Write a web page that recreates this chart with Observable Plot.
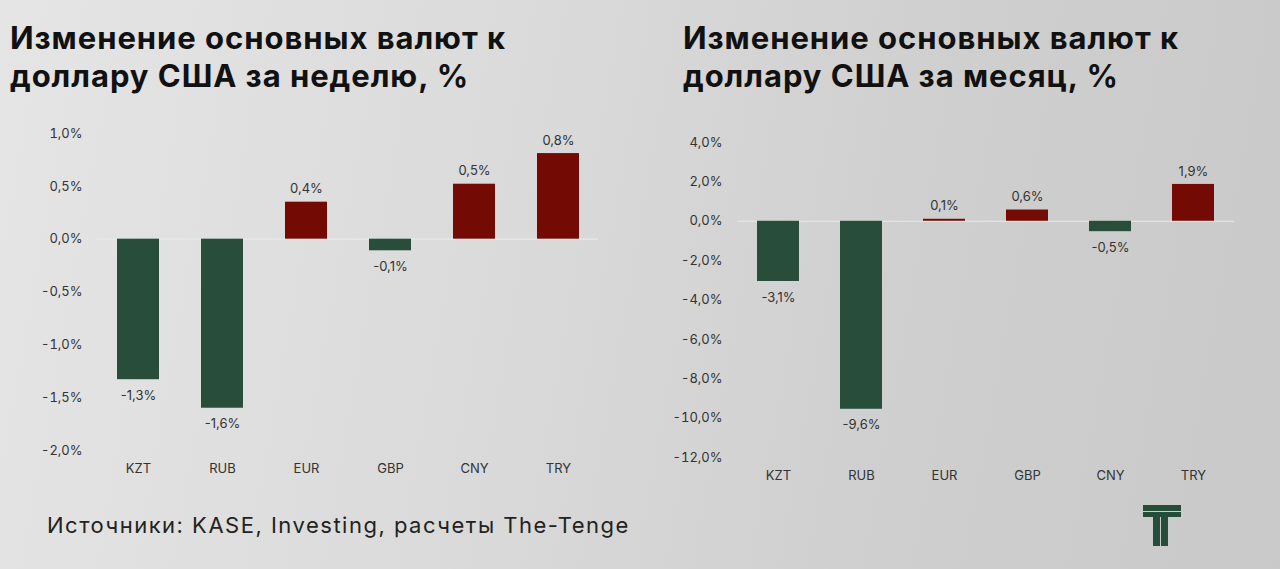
<!DOCTYPE html>
<html>
<head>
<meta charset="utf-8">
<script src="https://cdn.jsdelivr.net/npm/d3@7"></script>
<script src="https://cdn.jsdelivr.net/npm/@observablehq/plot@0.6"></script>
<style>
  html, body { margin: 0; padding: 0; }
  body {
    width: 1280px; height: 569px; overflow: hidden; position: relative;
    background: linear-gradient(100deg, #e5e5e5 0%, #dadada 40%, #cfcfcf 70%, #c9c9c9 100%);
    font-family: Inter, "Noto Sans", sans-serif;
  }
  .title {
    position: absolute; top: 19px; font-weight: 700; font-size: 31px; line-height: 38px;
    color: #111; letter-spacing: 0.95px;
  }
  .chart { position: absolute; }
  .caption { position: absolute; left: 47px; top: 512px; font-size: 22px; color: #222; letter-spacing: 1.5px; }
  .logo { position: absolute; left: 1143px; top: 505px; }
</style>
</head>
<body>
<div class="title" style="left:10px">Изменение основных валют к<br>доллару США за неделю, %</div>
<div class="title" style="left:683px">Изменение основных валют к<br>доллару США за месяц, %</div>
<div id="weekChart" class="chart" style="left:0px; top:110px"></div>
<div id="monthChart" class="chart" style="left:640px; top:120px"></div>
<div class="caption">Источники: KASE, Investing, расчеты The-Tenge</div>
<svg class="logo" width="40" height="44" viewBox="0 0 40 44">
  <rect x="0" y="0" width="38" height="6" fill="#264d3a"/>
  <rect x="0" y="7" width="38" height="5" fill="#264d3a"/>
  <rect x="10" y="12" width="7" height="29" fill="#264d3a"/>
  <rect x="18" y="12" width="7" height="29" fill="#264d3a"/>
</svg>
<script>
const currencies = ["KZT", "RUB", "EUR", "GBP", "CNY", "TRY"];
const weekValues = [-1.33, -1.60, 0.35, -0.11, 0.52, 0.81];
const weekLabels = ["-1,3%", "-1,6%", "0,4%", "-0,1%", "0,5%", "0,8%"];
const monthValues = [-3.06, -9.55, 0.10, 0.57, -0.53, 1.87];
const monthLabels = ["-3,1%", "-9,6%", "0,1%", "0,6%", "-0,5%", "1,9%"];
const weekTicks = [-2, -1.5, -1, -0.5, 0, 0.5, 1];
const monthTicks = [-12, -10, -8, -6, -4, -2, 0, 2, 4];

const GREEN = "#294d3b";
const RED = "#730b04";
const fmt = d => d.toFixed(1).replace(".", ",") + "%";

function chart(values, labels, ticks, domain, opts) {
  const data = currencies.map((c, i) => ({c, v: values[i], label: labels[i]}));
  return Plot.plot({
    width: opts.width,
    height: opts.height,
    marginLeft: 97,
    marginRight: opts.marginRight,
    marginTop: opts.marginTop,
    marginBottom: opts.marginBottom,
    style: {background: "transparent", fontFamily: "Inter, 'Noto Sans', sans-serif", fontSize: "13px", color: "#333"},
    x: {domain: currencies, paddingInner: 0.5, paddingOuter: 0.22, label: null},
    y: {domain, ticks, tickFormat: fmt, label: null},
    marks: [
      Plot.ruleY([0], {stroke: "#e9e9e9", strokeWidth: 1.2}),
      Plot.barY(data, {x: "c", y: "v", fill: d => d.v >= 0 ? RED : GREEN}),
      Plot.text(data, {x: "c", y: "v", text: "label", fill: "#333", fontSize: 13,
        filter: d => d.v >= 0, dy: -13}),
      Plot.text(data, {x: "c", y: "v", text: "label", fill: "#333", fontSize: 13,
        filter: d => d.v < 0, dy: 16}),
      Plot.axisY({ticks, tickFormat: fmt, tickSize: 0, tickPadding: 15, fill: "#333", fontSize: 13}),
      Plot.axisX({tickSize: 0, tickPadding: 13, fill: "#333", fontSize: 13})
    ]
  });
}

document.getElementById("weekChart").append(
  chart(weekValues, weekLabels, weekTicks, [-2, 1],
    {width: 640, height: 372, marginTop: 23, marginBottom: 32, marginRight: 42})
);
document.getElementById("monthChart").append(
  chart(monthValues, monthLabels, monthTicks, [-12, 4],
    {width: 640, height: 369, marginTop: 22, marginBottom: 32, marginRight: 46})
);
</script>
</body>
</html>
